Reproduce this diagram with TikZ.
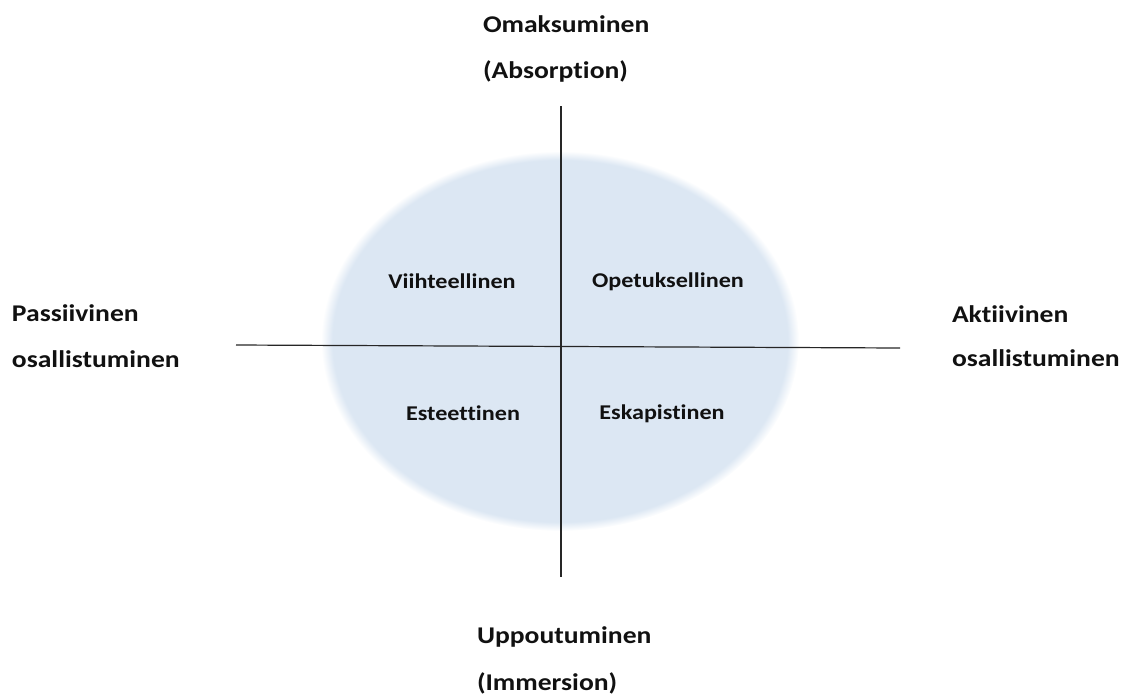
\documentclass[tikz,border=0pt]{standalone}
\usepackage{fontspec}
\setmainfont{Carlito}[FakeStretch=1.15, Ligatures=NoCommon]
\usepackage{xcolor}
\usetikzlibrary{positioning}
\definecolor{ellblue}{HTML}{DCE7F3}
\definecolor{axis}{HTML}{262626}
\definecolor{ink}{HTML}{111111}
\pgfdeclareradialshading{ellglow}{\pgfpointorigin}{%
  color(0bp)=(ellblue); color(23.8bp)=(ellblue); color(25bp)=(white); color(50bp)=(white)}
\tikzset{
  axisline/.style = {draw=axis, line width=1.2pt},
  pole/.style     = {font=\fontsize{24}{28}\selectfont\bfseries\color{ink}, anchor=base west, inner sep=0pt, outer sep=0pt},
  quad/.style     = {font=\fontsize{21}{25}\selectfont\bfseries\color{ink}, anchor=base, inner sep=0pt, outer sep=0pt},
}

\begin{document}
\begin{tikzpicture}[x=1pt,y=-1pt]
\path[use as bounding box] (0,0) rectangle (1128,697);

% ---- soft ellipse -------------------------------------------------------
\shade[shading=ellglow] (560,341) ellipse [x radius=239, y radius=190];

% ---- axes ---------------------------------------------------------------
\coordinate (top)    at (561,106);
\coordinate (bottom) at (561,577);
\coordinate (left)   at (236,345);
\coordinate (right)  at (900,348);
\draw[axisline] (top) -- (bottom);
\draw[axisline] (left) -- (right);

% ---- poles --------------------------------------------------------------
\node[pole] (absA) at (483,32)  {Omaksuminen};
\node[pole] (absB) at (483,78)  {(Absorption)};
\node[pole] (immA) at (477,643) {Uppoutuminen};
\node[pole] (immB) at (477,690) {(Immersion)};
\node[pole] (pasA) at (12,321)  {Passiivinen};
\node[pole] (pasB) at (12,367)  {osallistuminen};
\node[pole] (aktA) at (952,322) {Aktiivinen};
\node[pole] (aktB) at (952,366) {osallistuminen};

% ---- quadrants ----------------------------------------------------------
\node[quad] (viih) at (452,288) {Viihteellinen};
\node[quad] (opet) at (668,287) {Opetuksellinen};
\node[quad] (este) at (463,420) {Esteettinen};
\node[quad] (eska) at (662,419) {Eskapistinen};

\end{tikzpicture}
\end{document}
